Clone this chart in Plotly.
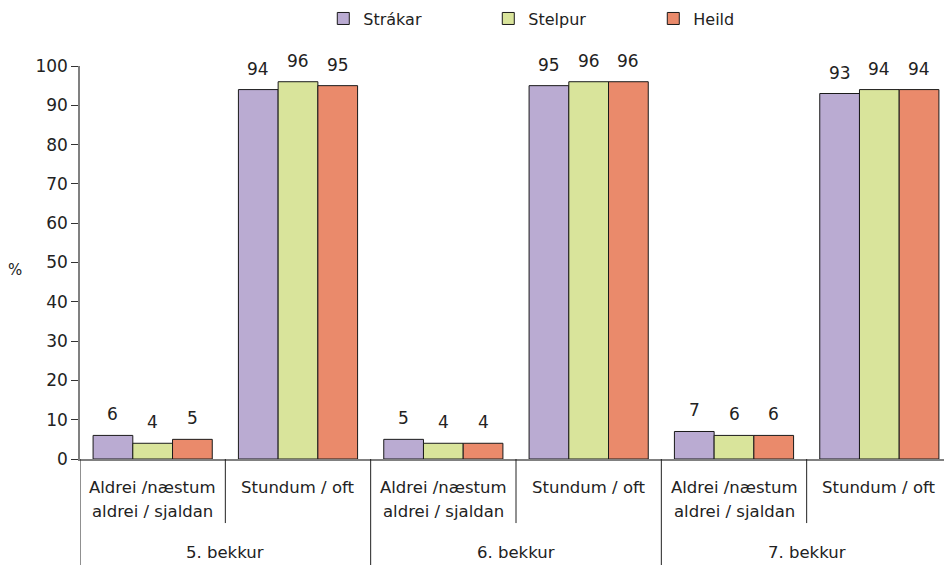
import plotly.graph_objects as go


# ==========================================================
# DATA
# ==========================================================

grades = ["5. bekkur", "6. bekkur", "7. bekkur"]
answers = ["Aldrei /næstum<br>aldrei / sjaldan", "Stundum / oft"]

strakar = [6, 94, 5, 95, 7, 93]
stelpur = [4, 96, 4, 96, 6, 94]
heild = [5, 95, 4, 96, 6, 94]

series = [
    ("Strákar", strakar, "#BAABD2"),
    ("Stelpur", stelpur, "#D9E49B"),
    ("Heild", heild, "#EA8A6B"),
]

FONT = "DejaVu Sans"
BARGAP = 0.18

# one category per (grade, answer) pair
categories = [g + " | " + a for g in grades for a in answers]
inner_labels = [a for g in grades for a in answers]


# ==========================================================
# FIGURE
# ==========================================================

fig = go.Figure()

bar_w = (1 - BARGAP) / len(series)

for k, (name, values, color) in enumerate(series):
    fig.add_trace(
        go.Bar(
            x=categories,
            y=values,
            name=name,
            marker=dict(color=color, line=dict(color="#1a1a1a", width=1)),
        )
    )

    # value labels above each bar
    offset = (k - (len(series) - 1) / 2) * bar_w
    for i, v in enumerate(values):
        fig.add_annotation(
            x=i + offset,
            y=v,
            xref="x",
            yref="y",
            text=str(v),
            showarrow=False,
            yshift=21,
            font=dict(size=17, color="#222222"),
        )

# page body adds an 8px offset, so the figure is a bit smaller
fig.update_layout(
    width=944,
    height=557,
    barmode="group",
    bargap=BARGAP,
    bargroupgap=0,
    plot_bgcolor="white",
    paper_bgcolor="white",
    font=dict(family=FONT, size=16, color="#222222"),
    margin=dict(l=72, r=0, t=58, b=106),
    legend=dict(
        orientation="h",
        x=0.279,
        xanchor="left",
        y=0.981,
        yref="container",
        yanchor="middle",
        font=dict(size=16),
        entrywidth=120,
        entrywidthmode="pixels",
        itemwidth=30,
    ),
    showlegend=True,
)

fig.update_yaxes(
    range=[0, 100],
    dtick=10,
    showgrid=False,
    showline=True,
    linecolor="#808080",
    linewidth=1.5,
    ticks="outside",
    ticklen=7,
    tickcolor="#333333",
    tickfont=dict(size=17),
    zeroline=False,
    automargin=False,
)

fig.update_xaxes(
    range=[-0.5, len(categories) - 0.5],
    showgrid=False,
    showline=True,
    linecolor="#808080",
    linewidth=1.5,
    showticklabels=False,
    ticks="",
    automargin=False,
)

# inner (answer) labels, one annotation per text line
for i, lab in enumerate(inner_labels):
    for n, line in enumerate(lab.split("<br>")):
        fig.add_annotation(
            x=i,
            y=0,
            xref="x",
            yref="paper",
            text=line,
            showarrow=False,
            yanchor="middle",
            yshift=-28 - 24 * n,
            font=dict(size=16.5),
        )

# outer (grade) labels
for j, g in enumerate(grades):
    fig.add_annotation(
        x=j * len(answers) + (len(answers) - 1) / 2,
        y=0,
        xref="x",
        yref="paper",
        text=g,
        showarrow=False,
        yanchor="middle",
        yshift=-93,
        font=dict(size=16.5),
    )

# dividers
for j in range(len(grades)):
    start = j * len(answers) - 0.5
    fig.add_shape(
        type="line", xref="x", yref="paper",
        x0=start, x1=start, y0=0, y1=-0.28,
        line=dict(color="#222222", width=1),
    )
    for a in range(1, len(answers)):
        fig.add_shape(
            type="line", xref="x", yref="paper",
            x0=start + a, x1=start + a, y0=0, y1=-0.163,
            line=dict(color="#222222", width=1),
        )

fig.add_annotation(
    text="%",
    xref="paper",
    yref="paper",
    x=-0.085,
    y=0.48,
    showarrow=False,
    font=dict(size=15),
)

fig.write_html("out.html")
